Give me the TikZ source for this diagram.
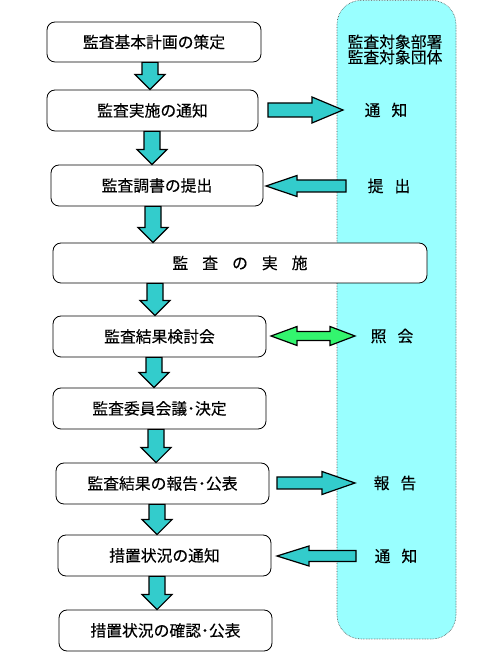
\documentclass[tikz,border=0pt]{standalone}
\usepackage{fontspec}
\setmainfont{Noto Sans CJK JP}[FakeBold=0.25]
\usetikzlibrary{calc}
\definecolor{arrteal}{RGB}{51,204,204}
\definecolor{colcyan}{RGB}{153,255,255}
\definecolor{arrgreen}{RGB}{51,245,110}
\tikzset{
  box/.style={draw=black, line width=0.8pt, rounded corners=8pt, fill=white,
    minimum height=41pt, inner sep=0pt, font=\fontsize{15.8}{15.8}\selectfont},
  blockarrow/.style={fill=arrteal, draw=black, line width=1.2pt, line join=miter},
  greenarrow/.style={fill=arrgreen, draw=black, line width=1.2pt, line join=miter},
  lbl/.style={font=\fontsize{15.8}{15.3}\selectfont, inner sep=0pt},
  column/.style={fill=colcyan, draw=black!70, densely dotted, line width=0.6pt, rounded corners=24pt},
}
% down block arrow from node #1 to node #2 at x #3
\newcommand\dnarr[3]{%
  \filldraw[blockarrow] let \p1=(#1.south), \p2=(#2.north) in
    ({#3-8},\y1) -- ({#3+8},\y1) -- ({#3+8},{\y2+15pt}) -- ({#3+15},{\y2+15pt})
    -- (#3,\y2) -- ({#3-15},{\y2+15pt}) -- ({#3-8},{\y2+15pt}) -- cycle;}
% horizontal block arrow at height of node #1: tail #2, head base #3, tip #4, shaft half #5, head half #6
\newcommand\hzarr[6]{%
  \filldraw[blockarrow] let \p1=(#1) in
    (#2,{\y1+#5pt}) -- (#3,{\y1+#5pt}) -- (#3,{\y1+#6pt}) -- (#4,\y1)
    -- (#3,{\y1-#6pt}) -- (#3,{\y1-#5pt}) -- (#2,{\y1-#5pt}) -- cycle;}
\begin{document}
\begin{tikzpicture}[x=1pt,y=1pt]
\useasboundingbox (0,0) rectangle (500,653);
% column
\draw[column] (337,14) rectangle (456,652.6);
% boxes
\node[box, minimum width=214pt, minimum height=40pt] (b1) at (154,611) {監査基本計画の策定};
\node[box, minimum width=211pt] (b2) at (152.5,542.5) {監査実施の通知};
\node[box, minimum width=212pt] (b3) at (157,467.5) {監査調書の提出};
\node[box, minimum width=374pt, minimum height=40pt] (b4) at (240,390) {監\hspace{14pt}査\hspace{14pt}の\hspace{14pt}実\hspace{14pt}施};
\node[box, minimum width=213pt] (b5) at (159.5,316.5) {監査結果検討会};
\node[box, minimum width=213pt] (b6) at (159.5,244.5) {監査委員会議･決定};
\node[box, minimum width=213pt] (b7) at (162.5,169.5) {監査結果の報告･公表};
\node[box, minimum width=213pt] (b8) at (164.5,97.5) {措置状況の通知};
\node[box, minimum width=213pt] (b9) at (165.5,22.5) {措置状況の確認･公表};
% column labels
\node[lbl, align=center] (hdr) at (395,603.5) {監査対象部署\\監査対象団体};
\node[lbl] (r1) at (386,543) {通\hspace{11pt}知};
\node[lbl] (r2) at (389,467) {提\hspace{11pt}出};
\node[lbl] (r3) at (392,317) {照\hspace{11pt}会};
\node[lbl] (r4) at (395,170) {報\hspace{11pt}告};
\node[lbl] (r5) at (396,97) {通\hspace{11pt}知};
% down arrows
\dnarr{b1}{b2}{150}
\dnarr{b2}{b3}{152}
\dnarr{b3}{b4}{153}
\dnarr{b4}{b5}{155}
\dnarr{b5}{b6}{154}
\dnarr{b6}{b7}{156}
\dnarr{b7}{b8}{157}
\dnarr{b8}{b9}{157}
% horizontal arrows
\hzarr{r1}{268}{312}{343}{7}{13}
\hzarr{r2}{346}{297}{266}{6}{10.5}
\filldraw[greenarrow] let \p1=(r3) in
  (271,\y1) -- (297,{\y1+9.5pt}) -- (297,{\y1+4.5pt}) -- (330,{\y1+4.5pt}) -- (330,{\y1+9.5pt})
  -- (355,\y1) -- (330,{\y1-9.5pt}) -- (330,{\y1-4.5pt}) -- (297,{\y1-4.5pt}) -- (297,{\y1-9.5pt}) -- cycle;
\hzarr{r4}{277}{322}{355}{6}{11.5}
\hzarr{r5}{356}{309}{277}{5.5}{10}
\end{tikzpicture}
\end{document}
